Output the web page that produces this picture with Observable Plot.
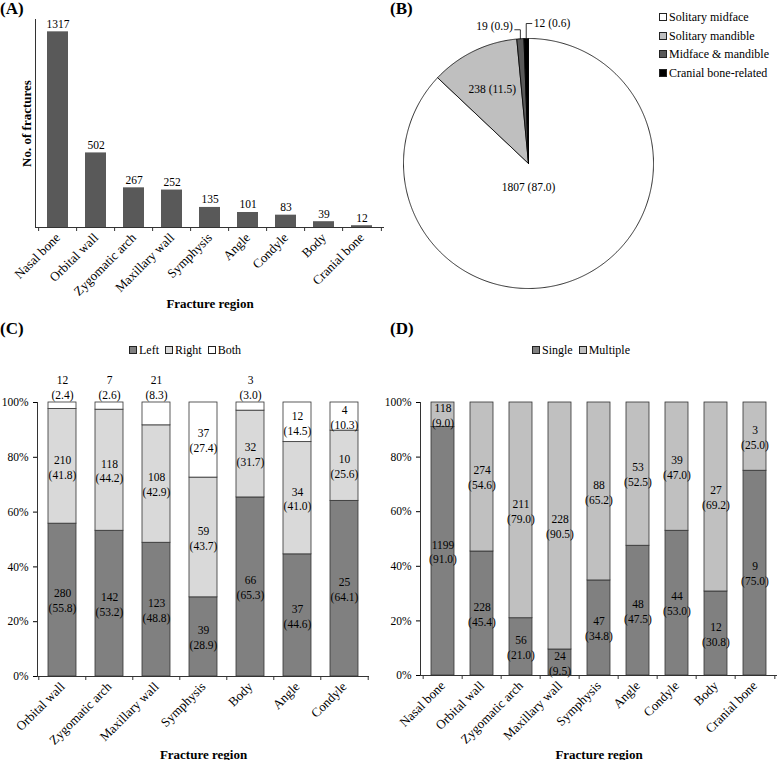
<!DOCTYPE html>
<html><head><meta charset="utf-8">
<script src="https://cdn.jsdelivr.net/npm/d3@7"></script>
<script src="https://cdn.jsdelivr.net/npm/@observablehq/plot@0.6"></script>
<style>
body{margin:0;background:#fff;}
#root{position:relative;width:778px;height:760px;overflow:hidden;font-family:"Liberation Serif","Times New Roman",serif;color:#000;}
.panel{position:absolute;}
.tag{position:absolute;font-weight:bold;font-size:17px;line-height:1;}
.legend{position:absolute;font-size:12px;line-height:1;white-space:nowrap;}
.legend .item{display:inline-block;margin-right:6px;}
.legend.col .item{display:block;margin:0 0 6.5px 0;}
.sw{display:inline-block;width:6px;height:6px;border:1px solid #222;margin-right:2px;vertical-align:0px;}
svg [aria-label="x-axis label"] text, svg [aria-label="y-axis label"] text{font-weight:bold;font-size:13px;}
</style></head><body><div id="root"></div>
<script>
// ---- data ----
const regionsA = ["Nasal bone","Orbital wall","Zygomatic arch","Maxillary wall","Symphysis","Angle","Condyle","Body","Cranial bone"];
const countsA = [1317,502,267,252,135,101,83,39,12];

const pieGroups = ["Solitary midface","Solitary mandible","Midface & mandible","Cranial bone-related"];
const pieCounts = [1807,238,19,12];
const piePercents = [87.0,11.5,0.9,0.6];
const pieColors = ["#ffffff","#bfbfbf","#595959","#000000"];

const regionsC = ["Orbital wall","Zygomatic arch","Maxillary wall","Symphysis","Body","Angle","Condyle"];
const sidesC = ["Left","Right","Both"];
const leftC = [280,142,123,39,66,37,25];
const leftPctC = [55.8,53.2,48.8,28.9,65.3,44.6,64.1];
const rightC = [210,118,108,59,32,34,10];
const rightPctC = [41.8,44.2,42.9,43.7,31.7,41.0,25.6];
const bothC = [12,7,21,37,3,12,4];
const bothPctC = [2.4,2.6,8.3,27.4,3.0,14.5,10.3];
const colorsC = ["#808080","#d9d9d9","#ffffff"];

const regionsD = ["Nasal bone","Orbital wall","Zygomatic arch","Maxillary wall","Symphysis","Angle","Condyle","Body","Cranial bone"];
const typesD = ["Single","Multiple"];
const singleD = [1199,228,56,24,47,48,44,12,9];
const singlePctD = [91.0,45.4,21.0,9.5,34.8,47.5,53.0,30.8,75.0];
const multipleD = [118,274,211,228,88,53,39,27,3];
const multiplePctD = [9.0,54.6,79.0,90.5,65.2,52.5,47.0,69.2,25.0];
const colorsD = ["#808080","#c0c0c0"];

const pctTicks = [0,0.2,0.4,0.6,0.8,1];

// ---- helpers ----
const root = document.getElementById("root");
function place(el, left, top){ const d=document.createElement("div"); d.className="panel"; d.style.left=left+"px"; d.style.top=top+"px"; d.appendChild(el); root.appendChild(d); return d; }
function tag(txt, left, top){ const d=document.createElement("div"); d.className="tag"; d.textContent=txt; d.style.left=left+"px"; d.style.top=top+"px"; root.appendChild(d); }
function legend(names, colors, left, top, col){
  const d=document.createElement("div"); d.className="legend"+(col?" col":""); d.style.left=left+"px"; d.style.top=top+"px";
  names.forEach((n,i)=>{ const it=document.createElement("span"); it.className="item";
    const s=document.createElement("span"); s.className="sw"; s.style.background=colors[i]; it.appendChild(s);
    it.appendChild(document.createTextNode(n)); d.appendChild(it); });
  root.appendChild(d);
}
function boundaryTicks(cats, width, ml, mr, frameH){
  const step=(width-ml-mr)/cats.length;
  return [
    Plot.ruleX(cats,{x:d=>d, dx:-step/2, insetTop:frameH, insetBottom:-4, stroke:"#333"}),
    Plot.ruleX(cats.slice(-1),{x:d=>d, dx:step/2, insetTop:frameH, insetBottom:-4, stroke:"#333"})
  ];
}
const baseStyle = {fontFamily:"Liberation Serif", fontSize:"11px", color:"#000", background:"transparent", overflow:"visible"};

// ---- Panel A ----
{
  const W=390,H=310,ml=35,mr=6,mt=19,mb=83;
  const tableA = regionsA.map((r,i)=>({region:r, n:countsA[i]}));
  const p = Plot.plot({
    width:W, height:H, marginLeft:ml, marginRight:mr, marginTop:mt, marginBottom:mb,
    style:baseStyle,
    x:{domain:regionsA, paddingInner:0.46, paddingOuter:0.23},
    y:{domain:[0,1400]},
    marks:[
      Plot.barY(tableA,{x:"region", y:"n", fill:"#595959"}),
      Plot.text(tableA,{x:"region", y:"n", text:d=>String(d.n), lineAnchor:"bottom", dy:-4, fontSize:11.5}),
      Plot.frame({anchor:"left", stroke:"#333"}),
      Plot.ruleY([0],{stroke:"#333"}),
      ...boundaryTicks(regionsA,W,ml,mr,H-mt-mb),
      Plot.axisX({tickSize:0, tickRotate:-45, tickPadding:8, fontSize:13, label:"Fracture region", labelAnchor:"center"}),
      Plot.axisY({ticks:[], tickSize:0, label:"No. of fractures", labelAnchor:"center", labelOffset:14, labelArrow:false})
    ]
  });
  place(p,0,0);
  tag("(A)",0,0);
}

// ---- Panel B (pie) ----
{
  const W=265,H=300,ml=13,mr=2,mt=38,mb=12;
  const arcs = d3.pie().sort(null).value(d=>d)(pieCounts);
  const pts=[];
  arcs.forEach((a,i)=>{
    const g=pieGroups[i];
    pts.push({g,x:0,y:0});
    const n=Math.max(2,Math.ceil((a.endAngle-a.startAngle)/(Math.PI/360)));
    for(let k=0;k<=n;k++){ const t=a.startAngle+(a.endAngle-a.startAngle)*k/n; pts.push({g,x:Math.sin(t),y:Math.cos(t)}); }
    pts.push({g,x:0,y:0});
  });
  const inLabels=[], outLabels=[], leaders=[];
  arcs.forEach((a,i)=>{
    const m=(a.startAngle+a.endAngle)/2;
    const share=pieCounts[i]/d3.sum(pieCounts);
    const txt=`${pieCounts[i]} (${piePercents[i].toFixed(1)})`;
    if(share>0.05){
      // large slice: label just below the centre; smaller: two-thirds out along mid-angle
      if(share>0.5) inLabels.push({x:0, y:-0.19, t:txt});
      else inLabels.push({x:0.66*Math.sin(m), y:0.66*Math.cos(m), t:txt});
    } else {
      const ex=Math.sin(m), ey=Math.cos(m);
      const left = i===2;
      const yTop = ey + (left?0.072:0.12);
      const xEnd = ex + (left?-0.045:0.045);
      leaders.push({g:i,x:ex,y:ey},{g:i,x:ex,y:yTop},{g:i,x:xEnd,y:yTop});
      outLabels.push({x:xEnd,y:yTop,t:txt,anchor:left?"end":"start"});
    }
  });
  const p = Plot.plot({
    width:W,height:H,marginLeft:ml,marginRight:mr,marginTop:mt,marginBottom:mb,
    style:baseStyle,
    x:{domain:[-1,1],axis:null},
    y:{domain:[-1,1],axis:null},
    color:{domain:pieGroups, range:pieColors},
    marks:[
      Plot.line(pts,{x:"x",y:"y",z:"g",fill:"g",stroke:"#000",strokeWidth:0.8,strokeLinejoin:"round"}),
      Plot.text(inLabels,{x:"x",y:"y",text:"t",fontSize:11.5}),
      Plot.line(leaders,{x:"x",y:"y",z:"g",stroke:"#000",strokeWidth:0.8}),
      Plot.text(outLabels.filter(d=>d.anchor==="end"),{x:"x",y:"y",text:"t",textAnchor:"end",dx:-2,dy:-3,fontSize:11.5}),
      Plot.text(outLabels.filter(d=>d.anchor==="start"),{x:"x",y:"y",text:"t",textAnchor:"start",dx:2,fontSize:11.5})
    ]
  });
  place(p,390,0);
  tag("(B)",390,0);
  legend(pieGroups,pieColors,659,11,true);
}

// ---- Panel C ----
{
  const W=390,H=400,ml=37,mr=21,mt=42,mb=84;
  const table=[];
  regionsC.forEach((r,i)=>{
    table.push({region:r, side:"Left", n:leftC[i], pct:leftPctC[i]});
    table.push({region:r, side:"Right", n:rightC[i], pct:rightPctC[i]});
    table.push({region:r, side:"Both", n:bothC[i], pct:bothPctC[i]});
  });
  const outside = d => d.side==="Both" && d.pct<9;
  const lab = d => `${d.n}\n(${d.pct.toFixed(1)})`;
  const p = Plot.plot({
    width:W,height:H,marginLeft:ml,marginRight:mr,marginTop:mt,marginBottom:mb,
    style:baseStyle,
    x:{domain:regionsC, paddingInner:0.41, paddingOuter:0.205},
    y:{domain:[0,1], label:null},
    color:{domain:sidesC, range:colorsC},
    marks:[
      Plot.barY(table,{x:"region", y:"n", fill:"side", offset:"normalize", stroke:"#333", strokeWidth:0.8}),
      Plot.text(table,Plot.stackY({x:"region", y:"n", offset:"normalize", text:d=>outside(d)?"":lab(d), lineHeight:1.3, fontSize:11.5, fill:"#000"})),
      Plot.text(table,Plot.stackY2({x:"region", y:"n", offset:"normalize", text:d=>outside(d)?lab(d):"", lineHeight:1.25, lineAnchor:"bottom", dy:-4, fontSize:11.5, fill:"#000"})),
      Plot.frame({anchor:"left", stroke:"#333"}),
      Plot.ruleY([0],{stroke:"#333"}),
      ...boundaryTicks(regionsC,W,ml,mr,H-mt-mb),
      Plot.axisY({ticks:pctTicks, tickFormat:d3.format(".0%"), tickSize:4, tickPadding:5, fontSize:11.5, label:null}),
      Plot.axisX({tickSize:0, tickRotate:-45, tickPadding:8, fontSize:13, label:"Fracture region", labelAnchor:"center", labelOffset:82})
    ]
  });
  place(p,0,360);
  tag("(C)",0,320);
  legend(sidesC,colorsC,129,344,false);
}

// ---- Panel D ----
{
  const W=388,H=400,ml=30,mr=1,mt=42,mb=85;
  const table=[];
  regionsD.forEach((r,i)=>{
    table.push({region:r, type:"Single", n:singleD[i], pct:singlePctD[i]});
    table.push({region:r, type:"Multiple", n:multipleD[i], pct:multiplePctD[i]});
  });
  const lab = d => `${d.n}\n(${d.pct.toFixed(1)})`;
  const p = Plot.plot({
    width:W,height:H,marginLeft:ml,marginRight:mr,marginTop:mt,marginBottom:mb,
    style:baseStyle,
    x:{domain:regionsD, paddingInner:0.42, paddingOuter:0.21},
    y:{domain:[0,1], label:null},
    color:{domain:typesD, range:colorsD},
    marks:[
      Plot.barY(table,{x:"region", y:"n", fill:"type", offset:"normalize", stroke:"#333", strokeWidth:0.8}),
      Plot.text(table,Plot.stackY({x:"region", y:"n", offset:"normalize", text:lab, lineHeight:1.3, fontSize:11.5, fill:"#000"})),
      Plot.frame({anchor:"left", stroke:"#333"}),
      Plot.ruleY([0],{stroke:"#333"}),
      ...boundaryTicks(regionsD,W,ml,mr,H-mt-mb),
      Plot.axisY({ticks:pctTicks, tickFormat:d3.format(".0%"), tickSize:4, tickPadding:5, fontSize:11.5, label:null}),
      Plot.axisX({tickSize:0, tickRotate:-45, tickPadding:8, fontSize:13, label:"Fracture region", labelAnchor:"center", labelOffset:83})
    ]
  });
  place(p,390,360);
  tag("(D)",390,320);
  legend(typesD,colorsD,532,344,false);
}
</script></body></html>
